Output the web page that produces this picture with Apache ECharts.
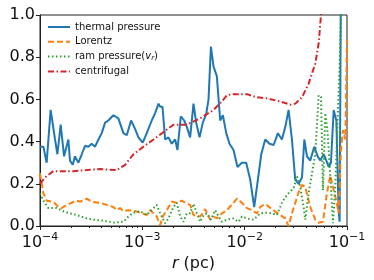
<!DOCTYPE html>
<html><head><meta charset="utf-8">
<script src="https://cdn.jsdelivr.net/npm/echarts@6/dist/echarts.min.js"></script>
<style>html,body{margin:0;padding:0;background:#fff}#c{width:374px;height:280px}</style>
</head><body><div id="c"></div>
<script>
// log10(r/pc) positions and values
const thermalLogR = [-4.000,-3.967,-3.935,-3.896,-3.853,-3.830,-3.798,-3.765,-3.723,-3.707,-3.680,-3.658,-3.625,-3.592,-3.560,-3.527,-3.495,-3.462,-3.429,-3.397,-3.364,-3.332,-3.283,-3.234,-3.185,-3.152,-3.110,-3.071,-3.038,-2.996,-2.957,-2.908,-2.875,-2.842,-2.826,-2.803,-2.777,-2.745,-2.712,-2.679,-2.657,-2.624,-2.591,-2.565,-2.533,-2.500,-2.474,-2.441,-2.409,-2.376,-2.353,-2.330,-2.304,-2.272,-2.239,-2.213,-2.180,-2.148,-2.109,-2.070,-2.027,-1.985,-1.946,-1.907,-1.880,-1.838,-1.799,-1.757,-1.717,-1.675,-1.636,-1.603,-1.571,-1.538,-1.506,-1.473,-1.440,-1.417,-1.391,-1.359,-1.320,-1.287,-1.261,-1.228,-1.202,-1.179,-1.157,-1.130,-1.104,-1.082,-1.072,-1.059,-1.016];
const thermalVal = [0.376,0.376,0.30,0.55,0.41,0.34,0.48,0.33,0.41,0.31,0.29,0.33,0.30,0.34,0.38,0.376,0.39,0.376,0.41,0.44,0.49,0.50,0.525,0.51,0.44,0.43,0.50,0.46,0.42,0.395,0.44,0.50,0.535,0.58,0.565,0.565,0.41,0.42,0.39,0.41,0.36,0.52,0.50,0.47,0.42,0.58,0.49,0.42,0.49,0.53,0.60,0.85,0.755,0.71,0.50,0.525,0.44,0.39,0.36,0.28,0.30,0.30,0.22,0.09,0.186,0.34,0.41,0.39,0.384,0.44,0.41,0.47,0.55,0.41,0.22,0.20,0.23,0.41,0.33,0.31,0.376,0.33,0.31,0.34,0.31,0.28,0.30,0.55,0.50,0.076,0.02,1.2,1.2];

const lorentzLogR = [-4.000,-3.967,-3.935,-3.870,-3.821,-3.788,-3.739,-3.690,-3.641,-3.609,-3.543,-3.495,-3.413,-3.348,-3.283,-3.250,-3.217,-3.185,-3.136,-3.087,-3.022,-2.957,-2.924,-2.891,-2.859,-2.826,-2.800,-2.761,-2.712,-2.663,-2.614,-2.582,-2.533,-2.500,-2.435,-2.386,-2.337,-2.304,-2.272,-2.223,-2.174,-2.109,-2.076,-2.027,-1.978,-1.929,-1.880,-1.848,-1.799,-1.734,-1.652,-1.603,-1.571,-1.538,-1.473,-1.440,-1.408,-1.359,-1.310,-1.277,-1.235,-1.196,-1.163,-1.130,-1.104,-1.082,-1.059,-1.039,-1.016,-1.000];
const lorentzVal = [0.25,0.155,0.12,0.115,0.09,0.085,0.10,0.11,0.12,0.115,0.13,0.115,0.11,0.10,0.09,0.075,0.085,0.07,0.075,0.073,0.063,0.052,0.075,0.06,0.045,0.005,0.045,0.075,0.115,0.11,0.12,0.11,0.10,0.052,0.045,0.08,0.03,0.045,0.036,0.06,0.075,0.11,0.13,0.11,0.085,0.075,0.06,0.09,0.105,0.08,0.052,0.036,0.0,0.06,0.16,0.195,0.186,0.09,0.03,0.015,0.02,0.155,0.24,0.17,0.12,0.06,0.36,0.455,0.41,0.88];

const ramLogR = [-4.000,-3.967,-3.918,-3.837,-3.772,-3.707,-3.641,-3.543,-3.478,-3.380,-3.283,-3.185,-3.136,-3.087,-3.022,-2.957,-2.891,-2.859,-2.826,-2.777,-2.745,-2.696,-2.663,-2.630,-2.598,-2.565,-2.533,-2.500,-2.467,-2.435,-2.402,-2.370,-2.330,-2.288,-2.255,-2.223,-2.174,-2.109,-2.060,-2.027,-1.978,-1.913,-1.848,-1.783,-1.734,-1.685,-1.636,-1.587,-1.522,-1.489,-1.457,-1.424,-1.408,-1.375,-1.342,-1.310,-1.277,-1.254,-1.235,-1.212,-1.189,-1.163,-1.137,-1.114,-1.091,-1.072,-1.049];
const ramVal = [0.155,0.12,0.085,0.085,0.07,0.06,0.052,0.036,0.03,0.025,0.016,0.02,0.045,0.063,0.07,0.052,0.085,0.10,0.06,0.013,0.036,0.09,0.11,0.045,0.02,0.06,0.06,0.105,0.06,0.02,0.052,0.06,0.03,0.075,0.045,0.02,0.03,0.036,0.02,0.045,0.036,0.03,0.06,0.063,0.06,0.052,0.11,0.147,0.18,0.235,0.186,0.09,0.03,0.155,0.25,0.34,0.62,0.61,0.17,0.535,0.44,0.235,0.013,0.195,0.52,0.755,1.2];

const centriLogR = [-4.000,-3.951,-3.870,-3.804,-3.674,-3.543,-3.413,-3.250,-3.168,-3.087,-2.989,-2.891,-2.793,-2.696,-2.565,-2.435,-2.304,-2.223,-2.174,-2.109,-1.978,-1.880,-1.783,-1.652,-1.554,-1.505,-1.440,-1.375,-1.310,-1.277,-1.254,-1.235];
const centriVal = [0.20,0.23,0.26,0.26,0.26,0.265,0.27,0.265,0.29,0.34,0.376,0.41,0.445,0.48,0.48,0.51,0.55,0.59,0.62,0.625,0.625,0.61,0.605,0.59,0.575,0.58,0.61,0.675,0.77,0.865,1.0,1.1];

const seriesNames = ['thermal pressure','Lorentz','ram pressure(v_r)','centrifugal'];
const yTicks = [0,0.2,0.4,0.6,0.8,1.0];
const xMajorExp = [-4,-3,-2,-1];
const xMinorLog = [];
for (let d = -4; d < -1; d++) for (let k = 2; k <= 9; k++) xMinorLog.push(d + Math.log10(k));

function pts(lr, v){ return lr.map((x,i)=>[Math.pow(10,x), v[i]]); }

const FONT = 'DejaVu Sans';
const chart = echarts.init(document.getElementById('c'), null, {renderer:'canvas'});
const mk = (name, lr, v, color, type, w) => ({
  name, type:'line', data: pts(lr,v), showSymbol:false, symbol:'none', clip:true,
  lineStyle:{color, width:w, type}, itemStyle:{color}, z: 3, animation:false
});
chart.setOption({
  animation:false,
  grid:{left:40, right:27, top:15, bottom:54, show:true, borderColor:'#222', borderWidth:1},
  legend:{
    left:42, top:17, orient:'vertical', itemGap:4.7, itemWidth:22, itemHeight:10,
    itemStyle:{opacity:0},
    textStyle:{fontFamily:FONT, fontSize:10, color:'#111',
      rich:{i:{fontStyle:'italic', fontSize:10, fontFamily:FONT, color:'#111'}, s:{fontStyle:'italic',fontSize:7, fontFamily:FONT, color:'#111', verticalAlign:'bottom', padding:[4,0,0,0]}}},
    formatter: n => n === 'ram pressure(v_r)' ? 'ram pressure({i|v}{s|r})' : n,
    data: seriesNames
  },
  xAxis:[{
    type:'log', min:1e-4, max:1e-1, logBase:10,
    name:'{i|r} (pc)', nameLocation:'middle', nameGap:24,
    nameTextStyle:{fontFamily:FONT, fontSize:16, color:'#111', rich:{i:{fontStyle:'italic', fontFamily:FONT, fontSize:16, color:'#111'}}},
    axisLine:{show:true, lineStyle:{color:'#222'}},
    axisTick:{show:true, inside:false, length:4, lineStyle:{color:'#222'}},
    splitLine:{show:false}, minorTick:{show:false},
    axisLabel:{margin:6, color:'#111', fontFamily:FONT, fontSize:16,
      formatter: v => '{b|10}{e|−' + Math.round(-Math.log10(v)) + '}',
      rich:{b:{fontFamily:FONT, fontSize:16, color:'#111'}, e:{fontFamily:FONT, fontSize:11, color:'#111', verticalAlign:'top', padding:[0,0,10,0]}}}
  },{
    type:'value', min:-4, max:-1, position:'bottom', gridIndex:0,
    axisLine:{show:false}, axisLabel:{show:false}, splitLine:{show:false},
    axisTick:{show:true, length:2, customValues:xMinorLog, lineStyle:{color:'#222'}}
  }],
  yAxis:{
    type:'value', min:0, max:1, interval:0.2,
    axisLine:{show:true, lineStyle:{color:'#222'}},
    axisTick:{show:true, length:4, lineStyle:{color:'#222'}},
    splitLine:{show:false},
    axisLabel:{margin:5, color:'#111', fontFamily:FONT, fontSize:16, formatter: v => v.toFixed(1)}
  },
  series:[
    mk(seriesNames[0], thermalLogR, thermalVal, '#1f77b4', 'solid', 2),
    mk(seriesNames[1], lorentzLogR, lorentzVal, '#ff7f0e', [6,3], 2),
    mk(seriesNames[2], ramLogR, ramVal, '#2ca02c', [1.5,2.5], 2),
    mk(seriesNames[3], centriLogR, centriVal, '#d62728', [6,2.5,1.5,2.5], 2)
  ]
});
</script></body></html>
